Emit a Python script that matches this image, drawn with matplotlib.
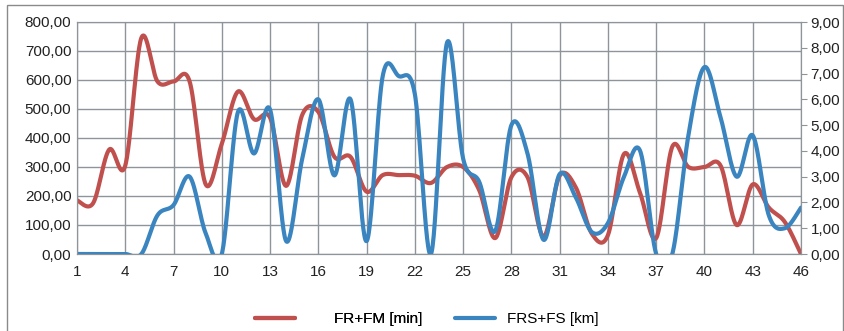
import numpy as np
import matplotlib
matplotlib.use("Agg")
from matplotlib import pyplot as plt
from matplotlib.ticker import FuncFormatter
from matplotlib.patches import Rectangle

plt.rcParams['font.family'] = ['Liberation Sans', 'DejaVu Sans']

days = np.arange(1, 47)

# FR+FM in minutes (left axis)
fr_fm = [185, 175, 360, 305, 745, 595, 595, 595, 240, 380,
         560, 465, 470, 235, 480, 490, 335, 335, 215, 272,
         272, 270, 245, 300, 300, 220, 55, 265, 265, 60,
         270, 230, 70, 65, 345, 210, 55, 370, 300, 300,
         305, 100, 240, 160, 110, 0]

# FRS+FS in km (right axis)
frs_fs = [0, 0, 0, 0, 0, 1.5, 1.9, 3.0, 0.8, 0,
          5.5, 3.9, 5.6, 0.5, 3.7, 6.0, 3.05, 6.0, 0.5, 6.9,
          6.9, 6.2, 0, 8.2, 3.7, 2.8, 0.9, 5.0, 3.9, 0.55,
          3.1, 2.2, 0.85, 1.2, 3.0, 4.0, 0, 0, 4.6, 7.25,
          5.3, 3.0, 4.6, 1.5, 1.0, 1.8]

x_ticks = np.arange(1, 47, 3)

RED = '#C0504D'
BLUE = '#3A85C0'
GRID = '#8E9499'
TXT = '#222222'


def smooth(x, y, n=30):
    """Catmull-Rom style smoothing (cubic Bezier between each pair of points)."""
    x = np.asarray(x, float)
    y = np.asarray(y, float)
    px = np.concatenate([[x[0]], x, [x[-1]]])
    py = np.concatenate([[y[0]], y, [y[-1]]])
    t = np.linspace(0, 1, n)[:, None]
    xs, ys = [], []
    for i in range(1, len(px) - 2):
        p0 = np.array([px[i - 1], py[i - 1]])
        p1 = np.array([px[i], py[i]])
        p2 = np.array([px[i + 1], py[i + 1]])
        p3 = np.array([px[i + 2], py[i + 2]])
        c1 = p1 + (p2 - p0) / 6
        c2 = p2 - (p3 - p1) / 6
        seg = ((1 - t) ** 3 * p1 + 3 * (1 - t) ** 2 * t * c1
               + 3 * (1 - t) * t ** 2 * c2 + t ** 3 * p2)
        xs.append(seg[:, 0])
        ys.append(seg[:, 1])
    return np.concatenate(xs), np.concatenate(ys)


def comma(v, pos):
    return f"{v:.2f}".replace('.', ',')


fig = plt.figure(figsize=(8.45, 3.31), dpi=100)
fig.patches.append(Rectangle((7 / 845, -0.1), 836 / 845, 1.1 - 5 / 331,
                             transform=fig.transFigure, fill=False,
                             edgecolor='#8a8a8a', lw=1))

ax = fig.add_axes([77 / 845, 77 / 331, 724 / 845, 232 / 331])
ax2 = ax.twinx()

ax.set_xlim(1, 46)
ax.set_ylim(0, 800)
ax.set_yticks(np.arange(0, 801, 100))
ax.set_xticks(x_ticks)
ax.yaxis.set_major_formatter(FuncFormatter(comma))
ax.grid(True, color=GRID, lw=1)
ax.set_axisbelow(True)
ax.tick_params(axis='y', length=0, pad=4, labelsize=11, colors=TXT)
ax.tick_params(axis='x', length=0, pad=8, labelsize=11, colors=TXT)

ax2.set_ylim(0, 9)
ax2.set_yticks(np.arange(0, 10, 1))
ax2.yaxis.set_major_formatter(FuncFormatter(comma))
ax2.tick_params(axis='y', length=4, pad=3, labelsize=11, labelcolor=TXT,
                color=GRID)

for a in (ax, ax2):
    for s in a.spines.values():
        s.set_color(GRID)

sx, sy = smooth(days, fr_fm)
line_red, = ax.plot(sx, sy, color=RED, lw=3, solid_capstyle='round',
                    label='FR+FM [min]')
bx, by = smooth(days, frs_fs)
line_blue, = ax2.plot(bx, by, color=BLUE, lw=3, solid_capstyle='round',
                      label='FRS+FS [km]')

# legend entries below the plot, each placed on its own
leg_red = fig.legend(handles=[line_red], loc='center left',
                     bbox_to_anchor=(255 / 845, 0.035), frameon=False,
                     fontsize=11, handlelength=2.6, handletextpad=2.6,
                     borderpad=0, borderaxespad=0)
fig.add_artist(leg_red)
fig.legend(handles=[line_blue], loc='center left',
           bbox_to_anchor=(455 / 845, 0.035), frameon=False,
           fontsize=11, handlelength=2.6, handletextpad=0.8,
           borderpad=0, borderaxespad=0)

fig.savefig('out.png', dpi=100)
